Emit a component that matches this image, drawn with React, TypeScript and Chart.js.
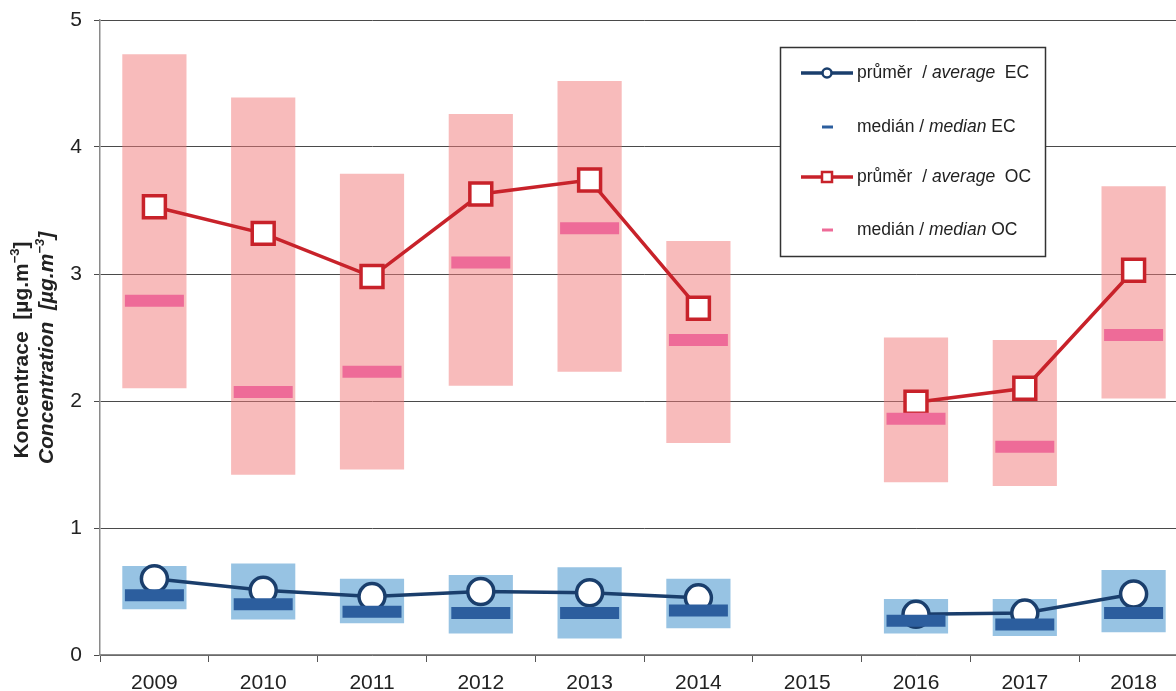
import React, { useEffect, useRef } from "react";
import { Chart, registerables } from "chart.js";

Chart.register(...registerables);

const years = ["2009", "2010", "2011", "2012", "2013", "2014", "2015", "2016", "2017", "2018"];
const ocMin = [2.1, 1.42, 1.46, 2.12, 2.23, 1.67, null, 1.36, 1.33, 2.02];
const ocMax = [4.73, 4.39, 3.79, 4.26, 4.52, 3.26, null, 2.5, 2.48, 3.69];
const ocMedian = [2.79, 2.07, 2.23, 3.09, 3.36, 2.48, null, 1.86, 1.64, 2.52];
const ocAverage = [3.53, 3.32, 2.98, 3.63, 3.74, 2.73, null, 1.99, 2.1, 3.03];
const ecMin = [0.36, 0.28, 0.25, 0.17, 0.13, 0.21, null, 0.17, 0.15, 0.18];
const ecMax = [0.7, 0.72, 0.6, 0.63, 0.69, 0.6, null, 0.44, 0.44, 0.67];
const ecMedian = [0.47, 0.4, 0.34, 0.33, 0.33, 0.35, null, 0.27, 0.24, 0.33];
const ecAverage = [0.6, 0.51, 0.46, 0.5, 0.49, 0.45, null, 0.32, 0.33, 0.48];
const yMin = 0;
const yMax = 5;
const yStep = 1;

const FONT = "'Liberation Sans', Arial, sans-serif";
const C = {
  ocRange: "rgba(241,119,119,0.5)",
  ocMedian: "#EE6B98",
  ocLine: "#C8222A",
  ecRange: "#97C3E3",
  ecMedian: "#2C5E9E",
  ecLine: "#1A3E6C",
  grid: "#4a4a4a",
  axis: "#8a8a8a",
  text: "#222222",
};

const rangeOf = (lo: (number | null)[], hi: (number | null)[]) =>
  lo.map((v, i) => (v == null || hi[i] == null ? null : [v, hi[i] as number]));

function drawPieces(ctx: CanvasRenderingContext2D, pieces: { t: string; f: string; dy?: number }[], x: number, y: number, align: "left" | "center") {
  let total = 0;
  for (const p of pieces) {
    ctx.font = p.f;
    total += ctx.measureText(p.t).width;
  }
  let cx = align === "center" ? x - total / 2 : x;
  ctx.textAlign = "left";
  ctx.textBaseline = "middle";
  for (const p of pieces) {
    ctx.font = p.f;
    ctx.fillText(p.t, cx, y + (p.dy || 0));
    cx += ctx.measureText(p.t).width;
  }
}

const decorPlugin = {
  id: "decor",
  afterDraw(chart: any) {
    const ctx: CanvasRenderingContext2D = chart.ctx;
    ctx.save();
    ctx.fillStyle = C.text;
    // Y axis title (two rotated lines)
    const big = `bold 21px ${FONT}`;
    const sup = `bold 13px ${FONT}`;
    const bigI = `italic bold 21px ${FONT}`;
    const supI = `italic bold 13px ${FONT}`;
    ctx.save();
    ctx.translate(22, 350);
    ctx.rotate(-Math.PI / 2);
    drawPieces(ctx, [
      { t: "Koncentrace  [µg.m", f: big },
      { t: "−3", f: sup, dy: -7 },
      { t: "]", f: big },
    ], 0, 0, "center");
    ctx.restore();
    ctx.save();
    ctx.translate(47, 348);
    ctx.rotate(-Math.PI / 2);
    drawPieces(ctx, [
      { t: "Concentration  [µg.m", f: bigI },
      { t: "−3", f: supI, dy: -7 },
      { t: "]", f: bigI },
    ], 0, 0, "center");
    ctx.restore();

    // Legend box
    ctx.fillStyle = "#ffffff";
    ctx.fillRect(780.5, 47.5, 265, 209);
    ctx.strokeStyle = "#333333";
    ctx.lineWidth = 1.5;
    ctx.strokeRect(780.5, 47.5, 265, 209);

    const reg = `17.5px ${FONT}`;
    const ita = `italic 17.5px ${FONT}`;
    const rows = [73, 127, 177, 230];
    // row 1: EC average
    ctx.strokeStyle = C.ecLine;
    ctx.lineWidth = 3.5;
    ctx.beginPath();
    ctx.moveTo(801, rows[0]);
    ctx.lineTo(853, rows[0]);
    ctx.stroke();
    ctx.beginPath();
    ctx.arc(827, rows[0], 4.5, 0, Math.PI * 2);
    ctx.fillStyle = "#fff";
    ctx.fill();
    ctx.lineWidth = 2.5;
    ctx.stroke();
    // row 2: EC median
    ctx.strokeStyle = C.ecMedian;
    ctx.lineWidth = 3;
    ctx.beginPath();
    ctx.moveTo(822, rows[1]);
    ctx.lineTo(833, rows[1]);
    ctx.stroke();
    // row 3: OC average
    ctx.strokeStyle = C.ocLine;
    ctx.lineWidth = 3.5;
    ctx.beginPath();
    ctx.moveTo(801, rows[2]);
    ctx.lineTo(853, rows[2]);
    ctx.stroke();
    ctx.fillStyle = "#fff";
    ctx.fillRect(822, rows[2] - 5, 10, 10);
    ctx.lineWidth = 2.5;
    ctx.strokeRect(822, rows[2] - 5, 10, 10);
    // row 4: OC median
    ctx.strokeStyle = C.ocMedian;
    ctx.lineWidth = 3;
    ctx.beginPath();
    ctx.moveTo(822, rows[3]);
    ctx.lineTo(833, rows[3]);
    ctx.stroke();

    ctx.fillStyle = C.text;
    drawPieces(ctx, [
      { t: "průměr  / ", f: reg },
      { t: "average", f: ita },
      { t: "  EC", f: reg },
    ], 857, rows[0], "left");
    drawPieces(ctx, [
      { t: "medián / ", f: reg },
      { t: "median", f: ita },
      { t: " EC", f: reg },
    ], 857, rows[1], "left");
    drawPieces(ctx, [
      { t: "průměr  / ", f: reg },
      { t: "average", f: ita },
      { t: "  OC", f: reg },
    ], 857, rows[2], "left");
    drawPieces(ctx, [
      { t: "medián / ", f: reg },
      { t: "median", f: ita },
      { t: " OC", f: reg },
    ], 857, rows[3], "left");
    ctx.restore();
  },
};

export default function App() {
  const ref = useRef<HTMLCanvasElement | null>(null);
  useEffect(() => {
    if (!ref.current) return;
    const chart = new Chart(ref.current, {
      type: "bar",
      data: {
        labels: years,
        datasets: [
          {
            type: "bar",
            label: "OC range",
            data: rangeOf(ocMin, ocMax) as any,
            backgroundColor: C.ocRange,
            grouped: false,
            barPercentage: 0.59,
            categoryPercentage: 1,
            order: 3,
          },
          {
            type: "bar",
            label: "EC range",
            data: rangeOf(ecMin, ecMax) as any,
            backgroundColor: C.ecRange,
            grouped: false,
            barPercentage: 0.59,
            categoryPercentage: 1,
            order: 3,
          },
          {
            type: "line",
            label: "průměr / average OC",
            data: ocAverage,
            borderColor: C.ocLine,
            borderWidth: 3.5,
            pointStyle: "rect",
            pointRadius: 15.5,
            pointBorderWidth: 3.5,
            pointBackgroundColor: "#ffffff",
            pointBorderColor: C.ocLine,
            spanGaps: false,
            clip: false,
            order: 1,
          } as any,
          {
            type: "line",
            label: "průměr / average EC",
            data: ecAverage,
            borderColor: C.ecLine,
            borderWidth: 3.5,
            pointStyle: "circle",
            pointRadius: 13,
            pointBorderWidth: 3.5,
            pointBackgroundColor: "#ffffff",
            pointBorderColor: C.ecLine,
            spanGaps: false,
            clip: false,
            order: 1,
          } as any,
          {
            type: "line",
            label: "medián / median OC",
            data: ocMedian,
            showLine: false,
            pointStyle: "line",
            pointRadius: 29.5,
            pointBorderWidth: 12,
            pointBorderColor: C.ocMedian,
            borderColor: C.ocMedian,
            clip: false,
            order: 0,
          } as any,
          {
            type: "line",
            label: "medián / median EC",
            data: ecMedian,
            showLine: false,
            pointStyle: "line",
            pointRadius: 29.5,
            pointBorderWidth: 12,
            pointBorderColor: C.ecMedian,
            borderColor: C.ecMedian,
            clip: false,
            order: 0,
          } as any,
        ],
      },
      options: {
        responsive: false,
        animation: false,
        devicePixelRatio: 1,
        events: [],
        layout: { autoPadding: false, padding: { top: 20, right: 2, left: 0, bottom: 0 } },
        plugins: { legend: { display: false }, tooltip: { enabled: false } },
        scales: {
          x: {
            grid: { drawOnChartArea: false, drawTicks: true, tickLength: 7, color: "#555555", offset: true },
            border: { color: C.axis, width: 1.5 },
            ticks: { font: { family: FONT, size: 21 }, color: C.text, padding: 9, maxRotation: 0, autoSkip: false },
            afterFit: (s: any) => {
              s.height = 36;
              s.paddingLeft = 0;
              s.paddingRight = 0;
              s.paddingTop = 0;
              s.paddingBottom = 0;
            },
          },
          y: {
            min: yMin,
            max: yMax,
            ticks: { stepSize: yStep, font: { family: FONT, size: 21 }, color: C.text, padding: 12 },
            grid: { color: C.grid, lineWidth: 1, tickLength: 6, drawTicks: true },
            border: { color: C.axis, width: 1.5 },
            afterFit: (s: any) => {
              s.width = 100;
              s.paddingLeft = 0;
              s.paddingRight = 0;
              s.paddingTop = 0;
              s.paddingBottom = 0;
            },
          },
        },
      },
      plugins: [decorPlugin],
    });
    return () => chart.destroy();
  }, []);
  return (
    <div style={{ position: "fixed", left: 0, top: 0, width: 1176, height: 691, overflow: "hidden", background: "#fff" }}>
      <canvas ref={ref} width={1190} height={691} style={{ display: "block" }} />
    </div>
  );
}
